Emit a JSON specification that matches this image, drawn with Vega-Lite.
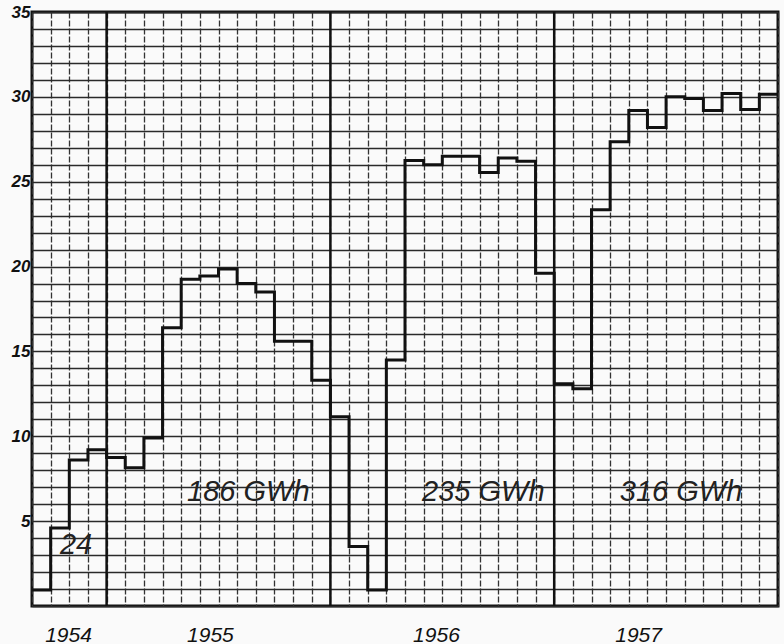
{
  "$schema": "https://vega.github.io/schema/vega-lite/v6.json",
  "width": 746,
  "height": 594,
  "autosize": {"type": "none"},
  "padding": {"left": 32, "top": 12, "right": 6, "bottom": 38},
  "background": "#fafafa",
  "view": {"stroke": "#111", "strokeWidth": 3},
  "datasets": {
    "monthly": [
      {"month": "1954-09", "m": 0, "gwh": 0.95},
      {"month": "1954-10", "m": 1, "gwh": 4.6},
      {"month": "1954-11", "m": 2, "gwh": 8.6},
      {"month": "1954-12", "m": 3, "gwh": 9.2},
      {"month": "1955-01", "m": 4, "gwh": 8.75},
      {"month": "1955-02", "m": 5, "gwh": 8.15},
      {"month": "1955-03", "m": 6, "gwh": 9.9},
      {"month": "1955-04", "m": 7, "gwh": 16.4},
      {"month": "1955-05", "m": 8, "gwh": 19.25},
      {"month": "1955-06", "m": 9, "gwh": 19.45},
      {"month": "1955-07", "m": 10, "gwh": 19.85},
      {"month": "1955-08", "m": 11, "gwh": 19.0},
      {"month": "1955-09", "m": 12, "gwh": 18.5},
      {"month": "1955-10", "m": 13, "gwh": 15.6},
      {"month": "1955-11", "m": 14, "gwh": 15.6},
      {"month": "1955-12", "m": 15, "gwh": 13.3},
      {"month": "1956-01", "m": 16, "gwh": 11.15},
      {"month": "1956-02", "m": 17, "gwh": 3.5},
      {"month": "1956-03", "m": 18, "gwh": 0.95},
      {"month": "1956-04", "m": 19, "gwh": 14.5},
      {"month": "1956-05", "m": 20, "gwh": 26.25},
      {"month": "1956-06", "m": 21, "gwh": 26.0},
      {"month": "1956-07", "m": 22, "gwh": 26.5},
      {"month": "1956-08", "m": 23, "gwh": 26.5},
      {"month": "1956-09", "m": 24, "gwh": 25.55},
      {"month": "1956-10", "m": 25, "gwh": 26.4},
      {"month": "1956-11", "m": 26, "gwh": 26.2},
      {"month": "1956-12", "m": 27, "gwh": 19.6},
      {"month": "1957-01", "m": 28, "gwh": 13.1},
      {"month": "1957-02", "m": 29, "gwh": 12.8},
      {"month": "1957-03", "m": 30, "gwh": 23.35},
      {"month": "1957-04", "m": 31, "gwh": 27.35},
      {"month": "1957-05", "m": 32, "gwh": 29.2},
      {"month": "1957-06", "m": 33, "gwh": 28.2},
      {"month": "1957-07", "m": 34, "gwh": 30.0},
      {"month": "1957-08", "m": 35, "gwh": 29.9},
      {"month": "1957-09", "m": 36, "gwh": 29.2},
      {"month": "1957-10", "m": 37, "gwh": 30.2},
      {"month": "1957-11", "m": 38, "gwh": 29.25},
      {"month": "1957-12", "m": 39, "gwh": 30.15},
      {"month": "end", "m": 40, "gwh": 30.15}
    ],
    "years": [
      {"year": "1955", "m": 4},
      {"year": "1956", "m": 16},
      {"year": "1957", "m": 28}
    ],
    "notes": [
      {"text": "24", "m": 2.36, "gwh": 3.6},
      {"text": "186 GWh", "m": 11.6, "gwh": 6.7},
      {"text": "235 GWh", "m": 24.2, "gwh": 6.7},
      {"text": "316 GWh", "m": 34.8, "gwh": 6.7}
    ]
  },
  "layer": [
    {
      "data": {"name": "monthly"},
      "mark": {"type": "line", "interpolate": "step-after", "color": "#111", "strokeWidth": 3, "clip": true},
      "encoding": {
        "x": {
          "field": "m", "type": "quantitative",
          "scale": {"domain": [0, 40], "nice": false, "zero": false},
          "axis": {
            "orient": "bottom",
            "values": [0,1,2,3,4,5,6,7,8,9,10,11,12,13,14,15,16,17,18,19,20,21,22,23,24,25,26,27,28,29,30,31,32,33,34,35,36,37,38,39,40],
            "grid": true, "gridColor": "#333", "gridWidth": 1.3, "gridDash": [6, 2], "gridOpacity": 1,
            "labels": false, "ticks": false, "domain": false, "title": null
          }
        },
        "y": {
          "field": "gwh", "type": "quantitative",
          "scale": {"domain": [0, 35], "nice": false},
          "axis": {
            "orient": "left",
            "values": [0,1,2,3,4,5,6,7,8,9,10,11,12,13,14,15,16,17,18,19,20,21,22,23,24,25,26,27,28,29,30,31,32,33,34,35],
            "grid": true, "gridColor": "#2a2a2a", "gridWidth": 1.5, "gridOpacity": 1,
            "labelExpr": "datum.value % 5 == 0 && datum.value > 0 ? datum.label : ''",
            "labelOverlap": false,
            "labelFont": "Liberation Sans", "labelFontStyle": "italic", "labelFontWeight": "bold",
            "labelFontSize": 17, "labelColor": "#111", "labelPadding": 2,
            "ticks": false, "domain": false, "title": null
          }
        }
      }
    },
    {
      "data": {"name": "years"},
      "mark": {"type": "rule", "color": "#111", "strokeWidth": 2.5},
      "encoding": {
        "x": {
          "field": "m", "type": "quantitative",
          "axis": {
            "orient": "bottom",
            "values": [1.93, 9.54, 21.66, 32.5],
            "labelExpr": "datum.value < 5 ? '1954' : datum.value < 15 ? '1955' : datum.value < 27 ? '1956' : '1957'",
            "labelOverlap": false,
            "grid": false, "ticks": false, "domain": false, "title": null,
            "labelFont": "Liberation Sans", "labelFontStyle": "italic", "labelFontSize": 21,
            "labelColor": "#111", "labelPadding": 18
          }
        }
      }
    },
    {
      "data": {"name": "notes"},
      "mark": {"type": "text", "font": "Liberation Sans", "fontStyle": "italic", "fontSize": 29, "color": "#222", "align": "center", "baseline": "middle"},
      "encoding": {
        "x": {"field": "m", "type": "quantitative", "axis": null},
        "y": {"field": "gwh", "type": "quantitative", "axis": null},
        "text": {"field": "text"}
      }
    }
  ],
  "resolve": {"axis": {"x": "independent", "y": "independent"}}
}
